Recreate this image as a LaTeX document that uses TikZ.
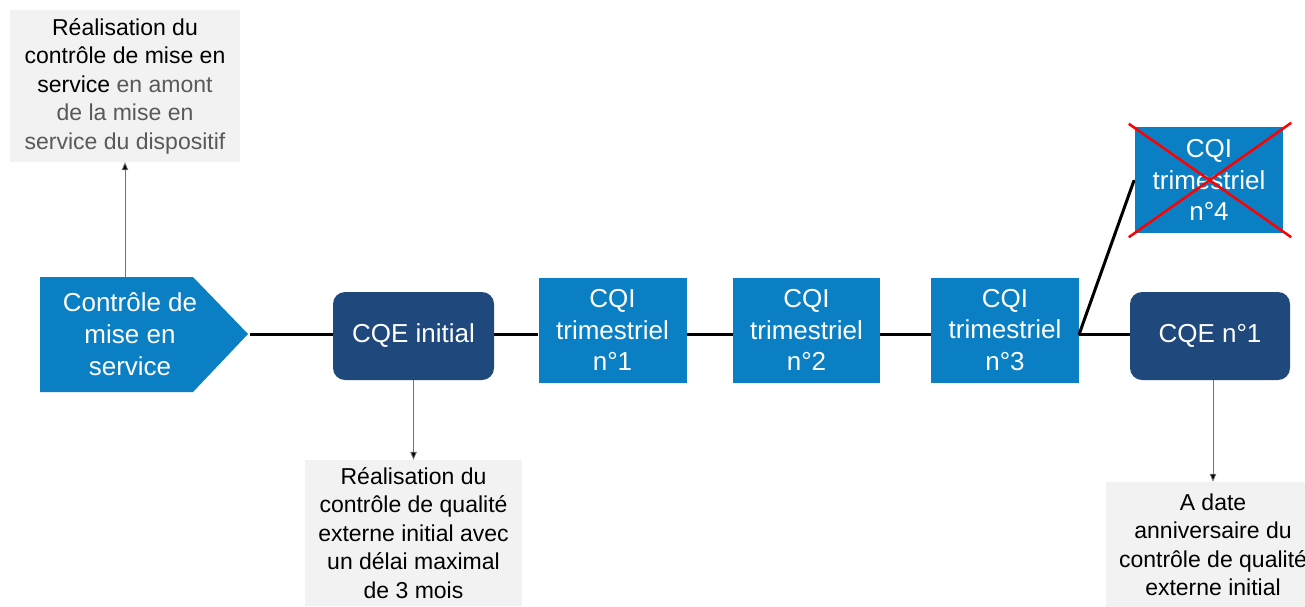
\documentclass[tikz,border=0pt]{standalone}
\usepackage{fontspec}
\setmainfont{Liberation Sans}
\usetikzlibrary{arrows.meta,calc}
\definecolor{lblue}{HTML}{0A7FC3}
\definecolor{dblue}{HTML}{1F487C}
\definecolor{gbox}{HTML}{F2F2F2}
\definecolor{gtext}{HTML}{595959}
\begin{document}
\begin{tikzpicture}[x=1pt,y=-1pt,
  cqi/.style={fill=lblue, text=white, align=center, minimum width=148pt, minimum height=105pt, inner sep=0pt, font=\fontsize{26}{31.5}\selectfont},
  cqe/.style={fill=dblue, rounded corners=12pt, text=white, align=center, minimum width=161pt, minimum height=88pt, inner sep=0pt, font=\fontsize{26}{31.5}\selectfont},
  note/.style={fill=gbox, align=center, inner sep=0pt, font=\fontsize{23}{28.5}\selectfont},
  link/.style={line width=3pt, black},
  ptr/.style={draw=black!55, line width=0.8pt, -{Triangle[length=8pt,width=6.5pt,fill=black]}},
  cross/.style={red, line width=2.5pt}
]
\useasboundingbox (0,0) rectangle (1305,606);

% top-left note
\node[note, minimum width=230pt, minimum height=152pt] (n0) at (125,86)
  {Réalisation du\\contrôle de mise en\\service {\color{gtext}en amont}\\{\color{gtext}de la mise en}\\{\color{gtext}service du dispositif}};

% pentagon
\fill[lblue] (40,277) -- (193,277) -- (248,334) -- (193,392) -- (40,392) -- cycle;
\coordinate (ptip) at (250,334);
\coordinate (ptop) at (125,277);
\coordinate (axis) at (0,334);
\node[text=white, align=center, inner sep=0pt, font=\fontsize{26}{32}\selectfont] (pent) at (130,334) {Contrôle de\\mise en\\service};

% main boxes
\node[cqe] (cqe0) at (413.5,336) {CQE initial};
\node[cqi] (cqi1) at (612.5,330) {CQI\\trimestriel\\n°1};
\node[cqi, minimum width=147pt] (cqi2) at (806.5,330) {CQI\\trimestriel\\n°2};
\node[cqi] (cqi3) at (1005,330) {CQI\\trimestriel\\n°3};
\node[cqi, minimum height=106pt] (cqi4) at (1209,180) {CQI\\trimestriel\\n°4};
\node[cqe, minimum width=160pt] (cqe1) at (1210,336) {CQE n°1};

% red cross over n°4
\draw[cross] ($(cqi4.north west)+(-6,-3)$) -- ($(cqi4.south east)+(8,4)$);
\draw[cross] ($(cqi4.north east)+(8,-4)$) -- ($(cqi4.south west)+(-6,4)$);

% bottom notes
\node[note, minimum width=217pt, minimum height=146pt] (n1) at (413.5,533)
  {Réalisation du\\contrôle de qualité\\externe initial avec\\un délai maximal\\de 3 mois};
\node[note, minimum width=214pt, minimum height=126pt] (n2) at (1213,545)
  {A date\\anniversaire du\\contrôle de qualité\\externe initial};

% links
\draw[link] (ptip) -- (cqe0.west |- axis);
\draw[link] (cqe0.east |- axis) -- (cqi1.west |- axis);
\draw[link] (cqi1.east |- axis) -- (cqi2.west |- axis);
\draw[link] (cqi2.east |- axis) -- (cqi3.west |- axis);
\draw[link] (cqi3.east |- axis) -- (cqe1.west |- axis);
\draw[link, line cap=round] (cqi3.east |- axis) -- ($(cqi4.west)+(-1,1)$);

% pointers
\draw[ptr] (ptop) -- (n0.south);
\draw[ptr] (cqe0.south) -- (n1.north);
\draw[ptr] (n2.north |- cqe1.south) -- (n2.north);
\end{tikzpicture}
\end{document}
